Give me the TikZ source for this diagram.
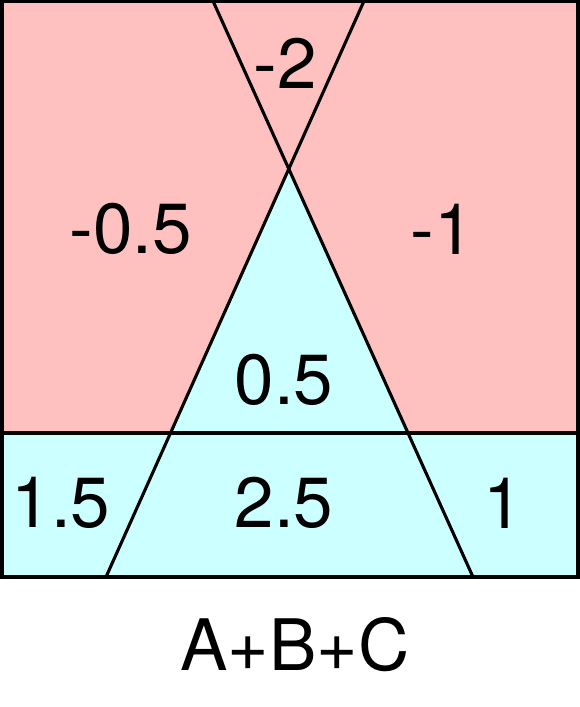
\documentclass[tikz,border=0pt]{standalone}
\usepackage{fontspec}
\setmainfont{TeX Gyre Heros}
\usepackage{tikz}

\definecolor{negpink}{RGB}{255,192,192}
\definecolor{poscyan}{RGB}{204,255,255}

\begin{document}
\begin{tikzpicture}[
  x=1pt, y=-1pt,
  font=\fontsize{71}{71}\selectfont,
  edge/.style={line width=3.1pt},
  val/.style={inner sep=0pt},
  ]
  \useasboundingbox (0,0) rectangle (580,707);

  % --- box corners and split line ---
  \coordinate (tl) at (2,1);
  \coordinate (tr) at (578,1);
  \coordinate (br) at (578,577);
  \coordinate (bl) at (2,577);
  \coordinate (ml) at (2,433);
  \coordinate (mr) at (578,433);

  % --- the two slanted lines ---
  \coordinate (atop) at (213,1);
  \coordinate (abot) at (473,577);
  \coordinate (btop) at (364,1);
  \coordinate (bbot) at (106,577);
  \coordinate (apex) at (288.7,169);
  \coordinate (tril) at (170.5,433);
  \coordinate (trir) at (408,433);

  % --- shaded regions (fill first, lines on top) ---
  \fill[negpink] (tl) rectangle (mr);
  \fill[poscyan] (ml) rectangle (br);
  \fill[poscyan] (apex) -- (tril) -- (trir) -- cycle;

  % --- lines ---
  \draw[edge] (ml) -- (mr);
  \draw[edge] (atop) -- (abot);
  \draw[edge] (btop) -- (bbot);
  \draw[edge] (tl) rectangle (br);

  % --- region values ---
  \node[val] (vtop)   at (285,63)  {-2};
  \node[val] (vleft)  at (131,229) {-0.5};
  \node[val] (vright) at (442,229) {-1};
  \node[val] (vmid)   at (284,380) {0.5};
  \node[val] (vbl)    at (61,503)  {1.5};
  \node[val] (vbm)    at (284,503) {2.5};
  \node[val] (vbr)    at (503,503) {1};

  % --- caption ---
  \node[val] (cap) at (295,645) {A+B+C};

\end{tikzpicture}
\end{document}
